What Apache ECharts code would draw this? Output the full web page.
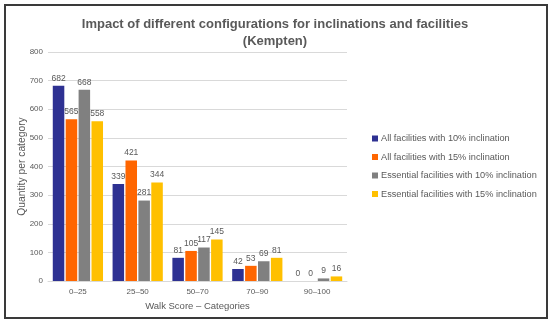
<!DOCTYPE html>
<html><head><meta charset="utf-8">
<script src="https://cdn.jsdelivr.net/npm/echarts@6/dist/echarts.min.js"></script>
<style>html,body{margin:0;padding:0;background:#fff}#c{width:550px;height:324px}</style>
</head><body><div id="c"></div>
<script>
const categories = ['0–25','25–50','50–70','70–90','90–100'];
const seriesNames = ['All facilities with 10% inclination','All facilities with 15% inclination','Essential facilities with 10% inclination','Essential facilities with 15% inclination'];
const all10 = [682,339,81,42,0];
const all15 = [565,421,105,53,0];
const ess10 = [668,281,117,69,9];
const ess15 = [558,344,145,81,16];
const yTicks = [0,100,200,300,400,500,600,700,800];
const colors = ['#2E3192','#FF6600','#808080','#FFC000'];
const values = [all10, all15, ess10, ess15];
const titleLines = ['Impact of different configurations for inclinations and facilities','(Kempten)'];

const chart = echarts.init(document.getElementById('c'));
const titleFont = {fontFamily:'Liberation Sans, Arial',fontSize:13,fontWeight:'bold',color:'#595959'};
chart.setOption({
  animation:false,
  graphic:[{type:'rect',shape:{x:5,y:5,width:542,height:313},style:{fill:'none',stroke:'#3a3a3a',lineWidth:2}}],
  title:[
    {text:titleLines[0],left:'center',top:13,textStyle:titleFont},
    {text:titleLines[1],left:'center',top:30,textStyle:titleFont}
  ],
  legend:{orient:'vertical',left:367,top:129,itemWidth:6,itemHeight:6,itemGap:9.5,icon:'rect',
    textStyle:{fontFamily:'Liberation Sans, Arial',fontSize:9.2,color:'#595959',padding:[0,0,0,-2]},data:seriesNames},
  grid:{left:48,right:203,top:52,bottom:43,outerBoundsMode:'none',containLabel:false},
  xAxis:{type:'category',data:categories,name:'Walk Score – Categories',nameLocation:'middle',nameGap:20,nameMoveOverlap:false,
    nameTextStyle:{fontFamily:'Liberation Sans, Arial',fontSize:9.5,color:'#595959'},
    axisLine:{lineStyle:{color:'#d9d9d9'}},axisTick:{show:false},
    axisLabel:{fontFamily:'Liberation Sans, Arial',fontSize:8,color:'#595959',margin:7}},
  yAxis:{type:'value',min:0,max:800,interval:100,name:'Quantity per category',nameLocation:'middle',nameGap:20.5,nameMoveOverlap:false,
    nameTextStyle:{fontFamily:'Liberation Sans, Arial',fontSize:10.3,color:'#595959'},
    splitLine:{lineStyle:{color:'#d9d9d9'}},axisLine:{show:false},axisTick:{show:false},
    axisLabel:{fontFamily:'Liberation Sans, Arial',fontSize:8,color:'#595959',margin:5}},
  series: seriesNames.map((n,i)=>({name:n,type:'bar',data:values[i],barGap:'12%',barCategoryGap:'16%',
    itemStyle:{color:colors[i]},
    label:{show:true,position:'top',distance:3,fontFamily:'Liberation Sans, Arial',fontSize:8.5,color:'#595959'}}))
});
</script></body></html>
